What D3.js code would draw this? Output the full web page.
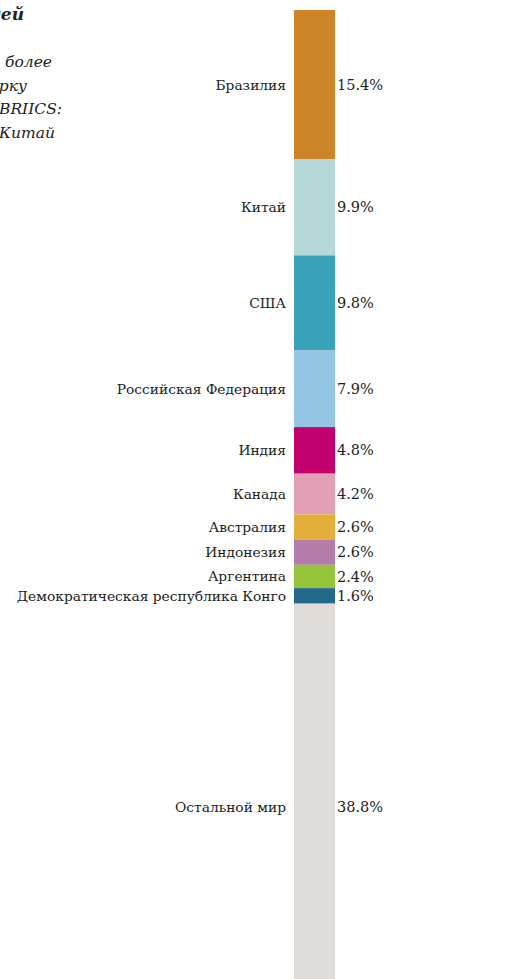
<!DOCTYPE html>
<html>
<head>
<meta charset="utf-8">
<script src="https://cdn.jsdelivr.net/npm/d3@7"></script>
<style>
  html, body { margin: 0; padding: 0; background: #fff; }
  svg { display: block; }
  text { font-family: "DejaVu Serif", Georgia, serif; fill: #222; }
</style>
</head>
<body>
<svg id="chart" width="513" height="979"></svg>
<script>
// Share of world forest area by country, %
const countries = [
  "Бразилия", "Китай", "США", "Российская Федерация", "Индия", "Канада",
  "Австралия", "Индонезия", "Аргентина", "Демократическая республика Конго",
  "Остальной мир"
];
const shares = [15.4, 9.9, 9.8, 7.9, 4.8, 4.2, 2.6, 2.6, 2.4, 1.6, 38.8];
const colors = [
  "#cd8427", "#b5d7d5", "#38a3bb", "#93c5e5", "#c4006e", "#e29fb5",
  "#e3ae3a", "#b47caa", "#95c43c", "#236a8a", "#e0dcd9"
];
const titleText = "Крупнейшие владельцы лесных площадей";
const subtitleLines = [
  "Десять стран, на которые приходится более",
  "половины лесов планеты, включая пятерку",
  "всех стран группы BRIICS:",
  "Бразилия, Россия, Индия, Индонезия и Китай"
];

const svg = d3.select("#chart");

// stack the shares into cumulative segments
let acc = 0;
const segs = countries.map((c, i) => {
  const s = { name: c, value: shares[i], color: colors[i], y0: acc, y1: acc + shares[i] };
  acc += shares[i];
  return s;
});

const y = d3.scaleLinear().domain([0, 100]).range([10, 980]);
const x = d3.scaleBand().domain(["all"]).range([294, 335]).padding(0);

svg.append("g").selectAll("rect")
  .data(segs)
  .join("rect")
  .attr("x", x("all"))
  .attr("width", x.bandwidth())
  .attr("y", d => y(d.y0))
  .attr("height", d => y(d.y1) - y(d.y0))
  .attr("fill", d => d.color);

// label sits at the segment centre; the long remainder segment gets its label lower
const restShift = 15;
const mid = (d, i) => (y(d.y0) + y(d.y1)) / 2 + (i === segs.length - 1 ? restShift : 0);

// country names to the left of the bar
svg.append("g").selectAll("text")
  .data(segs)
  .join("text")
  .attr("x", x("all") - 8)
  .attr("y", mid)
  .attr("dy", "0.35em")
  .attr("text-anchor", "end")
  .style("font-size", "13.8px")
  .text(d => d.name);

// share values to the right of the bar
svg.append("g").selectAll("text")
  .data(segs)
  .join("text")
  .attr("x", x("all") + x.bandwidth() + 2)
  .attr("y", mid)
  .attr("dy", "0.35em")
  .attr("text-anchor", "start")
  .style("font-size", "14.5px")
  .text(d => d3.format(".1f")(d.value) + "%");

// heading block, right-aligned against the left edge
svg.append("text")
  .attr("x", 24)
  .attr("y", 20)
  .attr("text-anchor", "end")
  .style("font-size", "17px")
  .style("font-weight", "bold")
  .style("font-style", "italic")
  .text(titleText);

const subEnds = [52, 27, 62, 55];
svg.append("g").selectAll("text")
  .data(subtitleLines)
  .join("text")
  .attr("x", (d, i) => subEnds[i])
  .attr("y", (d, i) => 67 + i * 23.5)
  .attr("text-anchor", "end")
  .style("font-size", "15.5px")
  .style("font-style", "italic")
  .text(d => d);
</script>
</body>
</html>
